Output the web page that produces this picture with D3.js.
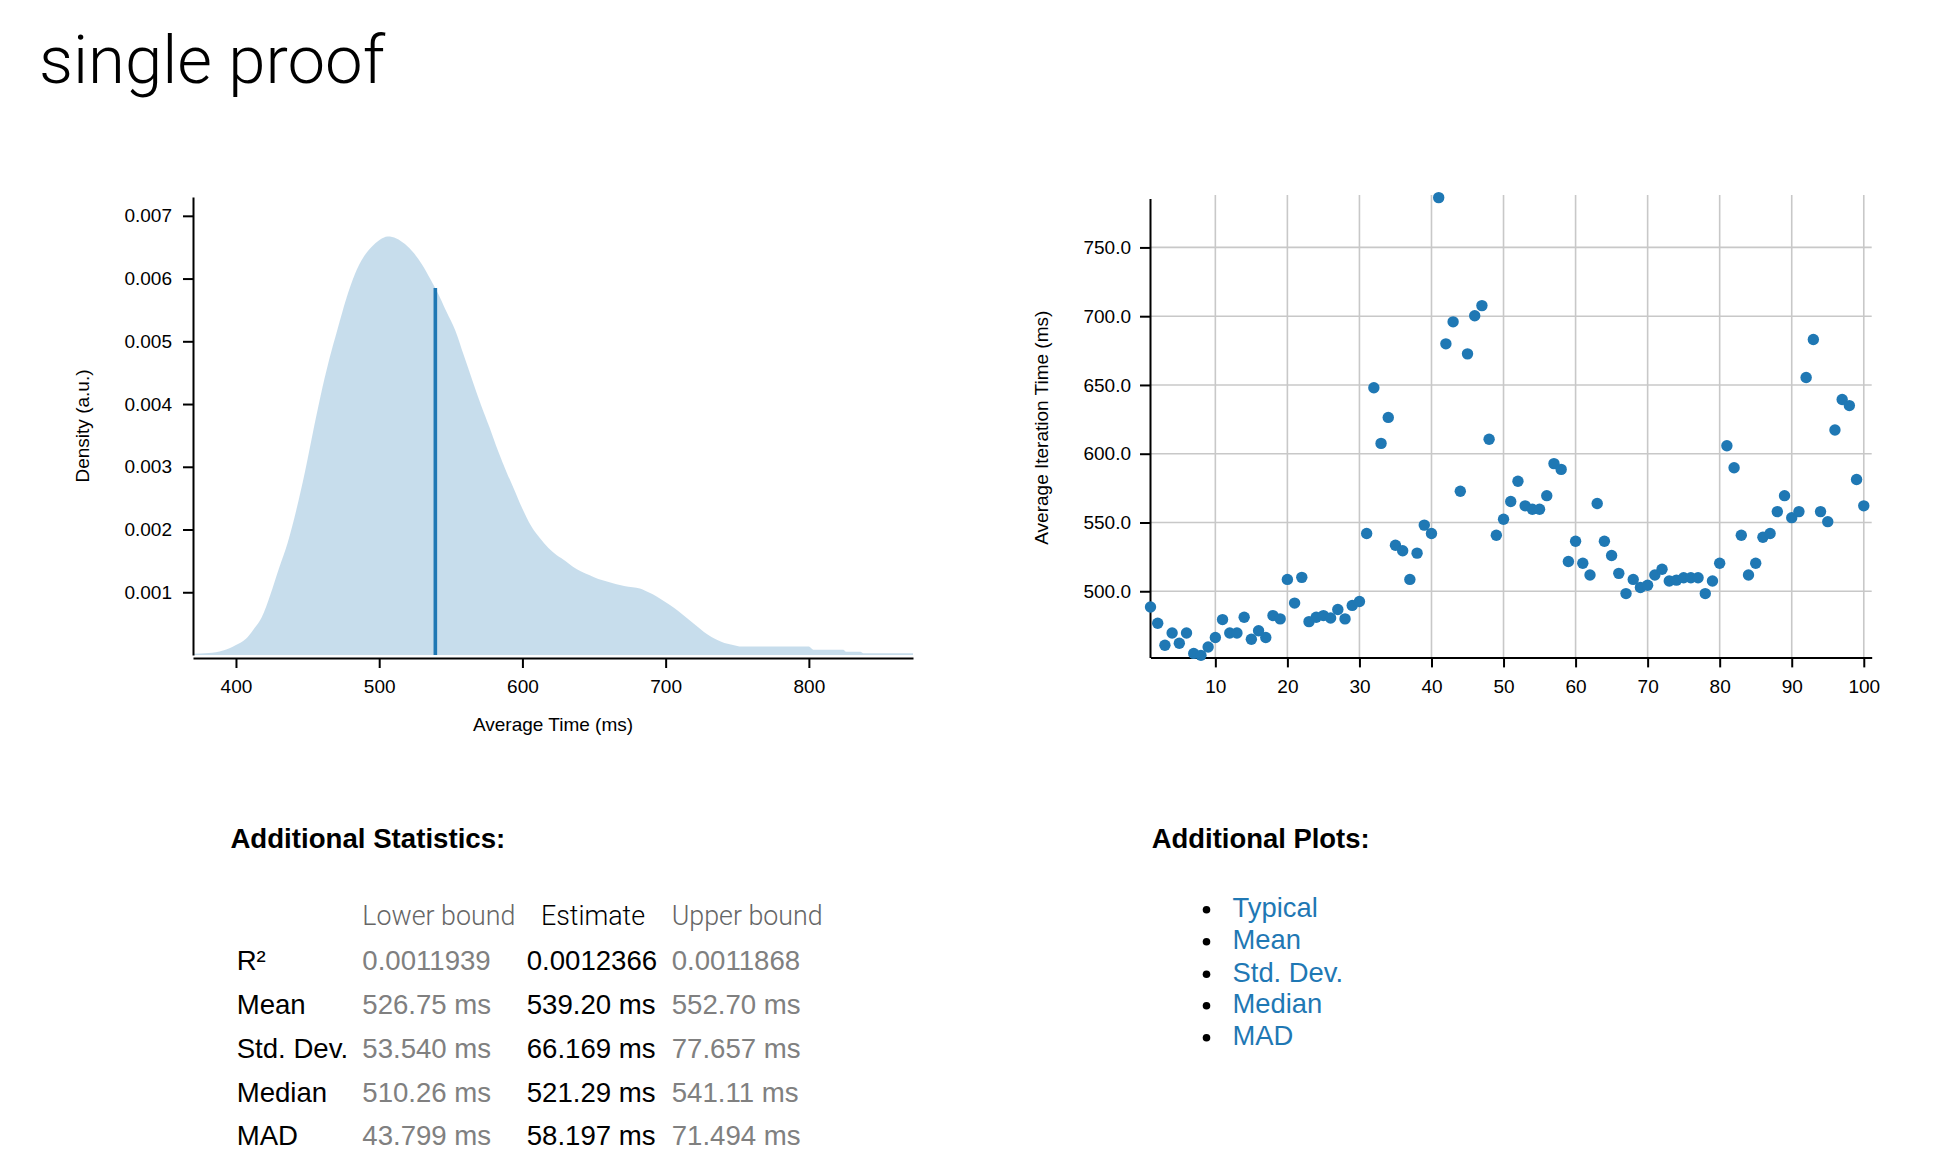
<!DOCTYPE html>
<html>
<head>
<meta charset="utf-8">
<script src="https://cdn.jsdelivr.net/npm/d3@7"></script>
<style>
  html, body { margin: 0; padding: 0; background: #fff; }
  svg { display: block; }
  .sans { font-family: "Liberation Sans", Arial, Helvetica, sans-serif; }
  .light { font-family: Roboto, "Liberation Sans", sans-serif; font-weight: 300; }
</style>
</head>
<body>
<script>
// ---------------- DATA ----------------
const title = "single proof";

// PDF estimate (x in ms, density)
const densityTimes = [370, 381, 391, 400, 407, 412, 418, 424, 430, 436, 442, 448, 454, 459, 465, 471, 477, 483, 489, 495,
  500, 506, 512, 518, 524, 530, 536, 542, 547, 553, 559, 565, 571, 577, 583, 589, 594, 600, 606, 612,
  618, 624, 630, 635, 641, 647, 653, 659, 665, 671, 677, 682, 688, 694, 700, 706, 712, 718, 724, 729,
  735, 741, 747, 753, 800, 803, 824, 826, 836, 838, 872.7];
const densityValues = [0.00002, 0.00003, 0.00007, 0.00016, 0.00026, 0.00040, 0.00060, 0.00096, 0.00138, 0.00178,
  0.00230, 0.00290, 0.00358, 0.00412, 0.00470, 0.00520, 0.00568, 0.00607, 0.00634, 0.00651,
  0.00661, 0.00667, 0.00664, 0.00655, 0.00641, 0.00622, 0.00598, 0.00572, 0.00547, 0.00518,
  0.00478, 0.00438, 0.00399, 0.00363, 0.00325, 0.00291, 0.00265, 0.00233, 0.00206, 0.00187,
  0.00171, 0.00159, 0.00150, 0.00141, 0.00133, 0.00127, 0.00121, 0.00117, 0.00113, 0.00110,
  0.00108, 0.00106, 0.00100, 0.00093, 0.00084, 0.00075, 0.00064, 0.00053, 0.00042, 0.00033,
  0.00025, 0.00019, 0.00016, 0.000134, 0.000134, 0.000085, 0.000085, 0.00005, 0.00005, 0.000028, 0.000028];
const meanEstimate = 539.2;       // ms
const meanDensity = 0.00585;      // height of the mean line

const densityXTicks = [400, 500, 600, 700, 800];
const densityYTicks = [0.001, 0.002, 0.003, 0.004, 0.005, 0.006, 0.007];

// Average iteration time per sample (samples 1..100), ms
const iterationTimes = [488.5, 476.7, 460.7, 469.6, 462.2, 469.6, 454.8, 453.4, 459.5, 466.4,
  479.4, 469.6, 469.6, 481.1, 465.1, 471.3, 466.4, 482.3, 479.9, 508.6,
  491.4, 510.1, 477.9, 481.1, 482.3, 480.6, 486.7, 479.9, 489.7, 492.6,
  542.0, 648.0, 607.5, 626.4, 533.4, 529.5, 508.6, 527.7, 548.1, 542.0,
  786.2, 679.9, 695.9, 572.7, 672.6, 700.3, 707.7, 610.5, 540.7, 552.3,
  565.3, 580.0, 562.1, 559.6, 559.6, 569.5, 592.8, 588.6, 521.6, 536.3,
  520.4, 511.8, 563.8, 536.3, 526.0, 513.0, 498.3, 508.6, 502.7, 504.4,
  511.8, 516.0, 507.4, 508.1, 509.8, 509.8, 509.8, 498.3, 507.4, 520.4,
  605.8, 589.8, 540.7, 511.8, 520.4, 539.3, 542.0, 557.9, 569.5, 553.5,
  557.9, 655.4, 683.1, 557.9, 550.6, 617.3, 639.4, 635.0, 581.2, 562.1];
const iterXTicks = [10, 20, 30, 40, 50, 60, 70, 80, 90, 100];
const iterYTicks = [500, 550, 600, 650, 700, 750];

// Additional statistics table
const statHeaders = ["Lower bound", "Estimate", "Upper bound"];
const statNames = ["R\u00B2", "Mean", "Std. Dev.", "Median", "MAD"];
const statLower = ["0.0011939", "526.75 ms", "53.540 ms", "510.26 ms", "43.799 ms"];
const statEstimate = ["0.0012366", "539.20 ms", "66.169 ms", "521.29 ms", "58.197 ms"];
const statUpper = ["0.0011868", "552.70 ms", "77.657 ms", "541.11 ms", "71.494 ms"];

const plotLinks = ["Typical", "Mean", "Std. Dev.", "Median", "MAD"];

// ---------------- DRAW ----------------
const W = 1938, H = 1176;
const BLUE = "#1f78b4";
const svg = d3.select("body").append("svg").attr("width", W).attr("height", H);

function fitWidth(sel, target) {
  const w = sel.node().getComputedTextLength();
  const fs = parseFloat(sel.attr("font-size"));
  sel.attr("font-size", fs * target / w);
}

// Title
const t = svg.append("text").attr("class", "light").attr("x", 39).attr("y", 83)
  .attr("font-size", 60).attr("fill", "#000").text(title);
fitWidth(t, 346);

// ---- Left: PDF chart ----
const xL = d3.scaleLinear().domain([370, 872.7]).range([193, 913]);
const yL = d3.scaleLinear().domain([0, 0.0073]).range([655, 197]);
const gL = svg.append("g").attr("class", "sans");

const pts = densityTimes.map((x, i) => [x, densityValues[i]]);
gL.append("path").datum(pts)
  .attr("d", d3.area().x(d => xL(d[0])).y0(yL(0)).y1(d => yL(d[1])).curve(d3.curveMonotoneX))
  .attr("fill", "rgba(31,120,180,0.25)");

gL.append("line")
  .attr("x1", xL(meanEstimate)).attr("x2", xL(meanEstimate))
  .attr("y1", yL(0)).attr("y2", yL(meanDensity))
  .attr("stroke", BLUE).attr("stroke-width", 3.6);

function styleAxis(g) {
  g.selectAll("path.domain").attr("stroke", "#000").attr("stroke-width", 2);
  g.selectAll(".tick line").attr("stroke", "#000").attr("stroke-width", 2);
  g.selectAll(".tick text").attr("fill", "#000").attr("font-size", 19)
    .attr("font-family", "'Liberation Sans', Arial, Helvetica, sans-serif");
}

gL.append("g").attr("transform", "translate(0,658)")
  .call(d3.axisBottom(xL).tickValues(densityXTicks).tickFormat(d3.format("d"))
    .tickSize(10).tickSizeOuter(0).tickPadding(12))
  .call(styleAxis);
gL.append("g").attr("transform", "translate(193,0)")
  .call(d3.axisLeft(yL).tickValues(densityYTicks).tickFormat(d3.format(".3f"))
    .tickSize(10).tickSizeOuter(0).tickPadding(11))
  .call(styleAxis);

gL.append("text").attr("transform", "translate(82.5,426) rotate(-90)")
  .attr("text-anchor", "middle").attr("dominant-baseline", "central")
  .attr("font-size", 19).text("Density (a.u.)");
gL.append("text").attr("x", 553).attr("y", 724.5)
  .attr("text-anchor", "middle").attr("dominant-baseline", "central")
  .attr("font-size", 19).text("Average Time (ms)");

// ---- Right: iteration times ----
const xR = d3.scaleLinear().domain([1, 101.1]).range([1150.5, 1871.7]);
const yR = d3.scaleLinear().domain([451.9, 785.5]).range([657.4, 198.6]);
const gR = svg.append("g").attr("class", "sans");

const grid = gR.append("g");
grid.selectAll("line.h").data(iterYTicks).join("line").attr("class", "h")
  .attr("x1", 1151).attr("x2", 1871.7).attr("y1", d => yR(d)).attr("y2", d => yR(d))
  .attr("stroke", "#c8c8c8").attr("stroke-width", 1.6);
grid.selectAll("line.v").data(iterXTicks).join("line").attr("class", "v")
  .attr("x1", d => xR(d)).attr("x2", d => xR(d)).attr("y1", 195).attr("y2", 657)
  .attr("stroke", "#c8c8c8").attr("stroke-width", 1.6);

gR.append("g").attr("transform", "translate(0,657.4)")
  .call(d3.axisBottom(xR).tickValues(iterXTicks).tickFormat(d3.format("d"))
    .tickSize(10).tickSizeOuter(0).tickPadding(12))
  .call(styleAxis);
gR.append("g").attr("transform", "translate(1150,0)")
  .call(d3.axisLeft(yR).tickValues(iterYTicks).tickFormat(d3.format(".1f"))
    .tickSize(10).tickSizeOuter(0).tickPadding(9))
  .call(styleAxis);

gR.append("g").selectAll("circle").data(iterationTimes).join("circle")
  .attr("cx", (d, i) => xR(i + 1)).attr("cy", d => yR(d)).attr("r", 5.7)
  .attr("fill", BLUE);

gR.append("text").attr("transform", "translate(1041.7,427.7) rotate(-90)")
  .attr("text-anchor", "middle").attr("dominant-baseline", "central")
  .attr("font-size", 19).text("Average Iteration Time (ms)");

// ---- Additional statistics ----
const h1 = svg.append("text").attr("class", "sans").attr("x", 230.4).attr("y", 848.3)
  .attr("font-size", 27).attr("font-weight", "bold").text("Additional Statistics:");
fitWidth(h1, 275);

const tbl = svg.append("g");
const FS = 27.6;
const HFS = 26.8;
const colX = [362.3, 526.7, 671.7];
const headY = 925;
tbl.append("text").attr("class", "light").attr("x", colX[0]).attr("y", headY)
  .attr("font-size", HFS).attr("fill", "#666").text(statHeaders[0]);
tbl.append("text").attr("class", "light").attr("x", 593).attr("y", headY)
  .attr("text-anchor", "middle").attr("font-size", HFS).attr("fill", "#000").text(statHeaders[1]);
tbl.append("text").attr("class", "light").attr("x", colX[2]).attr("y", headY)
  .attr("font-size", HFS).attr("fill", "#666").text(statHeaders[2]);

const rowY = [970, 1014, 1057.5, 1101.5, 1145];
statNames.forEach((name, i) => {
  const y = rowY[i];
  tbl.append("text").attr("class", "sans").attr("x", 236.7).attr("y", y)
    .attr("font-size", FS).attr("fill", "#000").text(name);
  tbl.append("text").attr("class", "sans").attr("x", colX[0]).attr("y", y)
    .attr("font-size", FS).attr("fill", "#808080").text(statLower[i]);
  tbl.append("text").attr("class", "sans").attr("x", colX[1]).attr("y", y)
    .attr("font-size", FS).attr("fill", "#000").text(statEstimate[i]);
  tbl.append("text").attr("class", "sans").attr("x", colX[2]).attr("y", y)
    .attr("font-size", FS).attr("fill", "#808080").text(statUpper[i]);
});

// ---- Additional plots ----
const h2 = svg.append("text").attr("class", "sans").attr("x", 1151.7).attr("y", 848.3)
  .attr("font-size", 27).attr("font-weight", "bold").text("Additional Plots:");
fitWidth(h2, 218);

const listY = [917.3, 949.3, 981.7, 1013.3, 1045.3];
const lg = svg.append("g").attr("class", "sans");
plotLinks.forEach((name, i) => {
  lg.append("circle").attr("cx", 1206.5).attr("cy", listY[i] - 7.5).attr("r", 3.8).attr("fill", "#000");
  lg.append("text").attr("x", 1232.5).attr("y", listY[i]).attr("font-size", 27.4)
    .attr("fill", BLUE).text(name);
});
</script>
</body>
</html>
